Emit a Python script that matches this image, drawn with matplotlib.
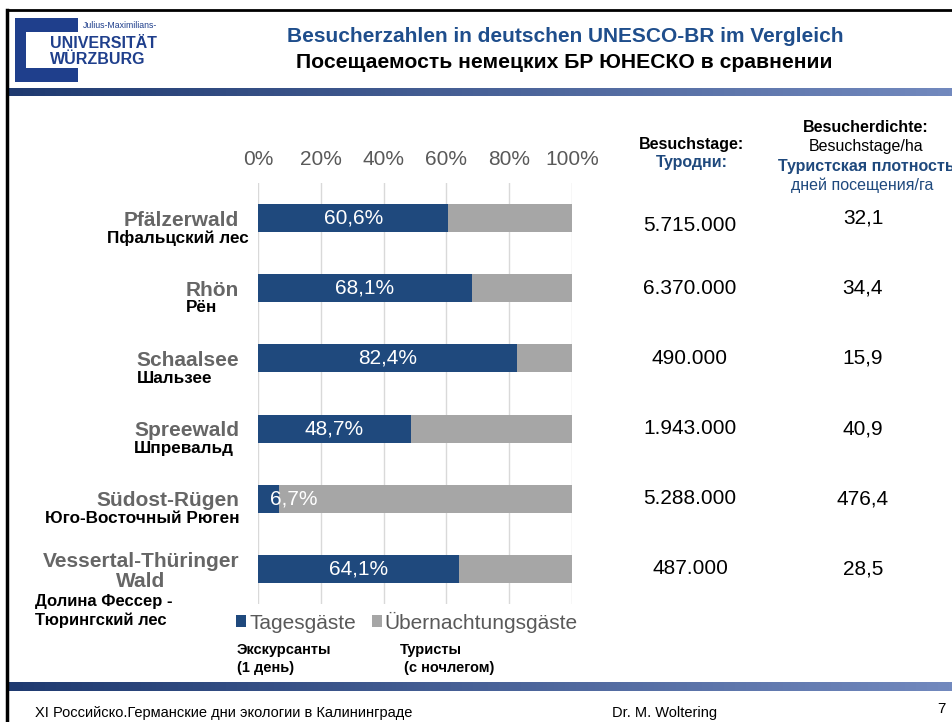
import numpy as np
import matplotlib
matplotlib.use("Agg")
import matplotlib.pyplot as plt
from matplotlib.colors import LinearSegmentedColormap
from matplotlib.patches import Rectangle
from matplotlib.lines import Line2D
from matplotlib.transforms import blended_transform_factory

plt.rcParams['font.family'] = ['Liberation Sans', 'DejaVu Sans']

# data
regionen = ["Pfälzerwald", "Rhön", "Schaalsee", "Spreewald", "Südost-Rügen",
            "Vessertal-Thüringer\nWald"]
regionen_ru = ["Пфальцский лес", "Рён", "Шальзее", "Шпревальд",
               "Юго-Восточный Рюген", "Долина Фессер -\nТюрингский лес"]
tagesgaeste = [60.6, 68.1, 82.4, 48.7, 6.7, 64.1]
uebernachtung = [100 - v for v in tagesgaeste]
besuchstage = [5715000, 6370000, 490000, 1943000, 5288000, 487000]
besucherdichte = [32.1, 34.4, 15.9, 40.9, 476.4, 28.5]

BLAU = "#1F497D"
GRAU = "#A6A6A6"
TEXTGRAU = "#595959"

W, H = 953, 722


def fx(px):
    return px / W


def fy(py):
    return 1 - py / H


fig = plt.figure(figsize=(W / 100, H / 100), dpi=100)

# Rahmen
fig.add_artist(Line2D([fx(7), 1], [fy(10), fy(10)], color="black", lw=2,
                      transform=fig.transFigure))
fig.add_artist(Line2D([fx(7), fx(7)], [fy(10), 0], color="black", lw=2.5,
                      transform=fig.transFigure))

# Logo
LOGO = "#1F3F8C"
for x0, y0, x1, y1 in [(15, 18, 78, 32), (15, 18, 26, 82), (15, 68, 78, 82)]:
    fig.add_artist(Rectangle((fx(x0), fy(y1)), fx(x1) - fx(x0), (y1 - y0) / H,
                             color=LOGO, transform=fig.transFigure, lw=0))
fig.text(fx(83), fy(25), "Julius-Maximilians-", fontsize=6.3, color=LOGO, va="center")
fig.text(fx(50), fy(43), "UNIVERSITÄT", fontsize=11.5, weight="bold", color=LOGO, va="center")
fig.text(fx(50), fy(59), "WÜRZBURG", fontsize=11.5, weight="bold", color=LOGO, va="center")

# Titel
fig.text(fx(565), fy(37), "Besucherzahlen in deutschen UNESCO-BR im Vergleich",
         ha="center", va="center", fontsize=15, weight="bold", color="#1F4E8C")
fig.text(fx(564), fy(62), "Посещаемость немецких БР ЮНЕСКО в сравнении",
         ha="center", va="center", fontsize=15.2, weight="bold", color="black")

# Farbverlauf-Balken
cmap = LinearSegmentedColormap.from_list("band", ["#1F3A70", "#7289BE"])
for top, bot in [(88, 96), (682, 691)]:
    bax = fig.add_axes([fx(8), fy(bot), 1 - fx(8), (bot - top) / H])
    bax.imshow(np.linspace(0, 1, 256)[None, :], cmap=cmap, aspect="auto")
    bax.axis("off")

# Diagramm
ax = fig.add_axes([fx(258), fy(604), fx(572) - fx(258), (604 - 183) / H])
y = np.arange(len(regionen))
b1 = ax.barh(y, tagesgaeste, height=0.4, color=BLAU, zorder=3)
b2 = ax.barh(y, uebernachtung, left=tagesgaeste, height=0.4, color=GRAU, zorder=3)
ax.set_xlim(0, 100)
ax.set_ylim(5.5, -0.5)
ax.set_xticks(range(0, 101, 20), [f"{t}%" for t in range(0, 101, 20)])
ax.xaxis.tick_top()
ax.grid(axis="x", color="#D9D9D9", lw=1, zorder=0)
for s in ax.spines.values():
    s.set_visible(False)
ax.tick_params(axis="x", length=0, pad=10, labelsize=15, labelcolor=TEXTGRAU)
ax.set_yticks(y, regionen)
ax.tick_params(axis="y", length=0, pad=13.5, labelsize=15, labelcolor="#666666")
for lab in ax.get_yticklabels():
    lab.set_fontweight("bold")
    lab.set_multialignment("center")
    lab.set_linespacing(1.05)

for i, v in enumerate(tagesgaeste):
    ax.text(max(v / 2, 11.5), i, f"{v:.1f}".replace(".", ",") + "%",
            color="white", ha="center", va="center", fontsize=15, zorder=4)

# russische Namen unter den deutschen
fig.canvas.draw()
renderer = fig.canvas.get_renderer()
trans = blended_transform_factory(fig.transFigure, ax.transData)
for i, (name, lab) in enumerate(zip(regionen_ru, ax.get_yticklabels())):
    if "\n" in name:
        ax.text(fx(35), i + 0.6, name, transform=trans, ha="left", va="center",
                fontsize=12, weight="bold", linespacing=1.25)
        continue
    t = ax.text(fx(240), i + 0.28, name, transform=trans, ha="right", va="center",
                fontsize=12.3, weight="bold")
    de_box = lab.get_window_extent(renderer)
    ru_box = t.get_window_extent(renderer)
    if ru_box.width < de_box.width:
        t.set_horizontalalignment("left")
        t.set_x(de_box.x0 / W)
    elif i == 0:
        t.set_x(fx(249))

for i, (t, d) in enumerate(zip(besuchstage, besucherdichte)):
    ax.text(fx(690), i + (0.1 if i == 0 else 0), f"{t:,}".replace(",", "."),
            transform=trans, ha="center", va="center", fontsize=15)
    ax.text(fx(863), i, f"{d:.1f}".replace(".", ","), transform=trans,
            ha="center", va="center", fontsize=15)

# Spaltenköpfe
fig.text(fx(692), fy(145), "Besuchstage:", ha="center", va="center",
         fontsize=11.5, weight="bold")
fig.text(fx(692), fy(163), "Туродни:", ha="center", va="center",
         fontsize=11.5, weight="bold", color=BLAU)
fig.text(fx(866), fy(128), "Besucherdichte:", ha="center", va="center",
         fontsize=11.5, weight="bold")
fig.text(fx(866), fy(146), "Besuchstage/ha", ha="center", va="center", fontsize=11.5)
fig.text(fx(866), fy(166), "Туристская плотность", ha="center", va="center",
         fontsize=11.5, weight="bold", color=BLAU)
fig.text(fx(862), fy(185), "дней посещения/га", ha="center", va="center",
         fontsize=11.5, color=BLAU)

# Legende
fig.legend([b1, b2], ["Tagesgäste", "Übernachtungsgäste"], loc="center left",
           bbox_to_anchor=(fx(236), fy(622)), ncol=2, frameon=False, fontsize=15,
           handlelength=0.48, handleheight=0.48, handletextpad=0.15,
           columnspacing=0.75, borderpad=0, borderaxespad=0, labelcolor=TEXTGRAU)
fig.text(fx(237), fy(650), "Экскурсанты", fontsize=10.5, weight="bold", va="center")
fig.text(fx(237), fy(668), "(1 день)", fontsize=10.5, weight="bold", va="center")
fig.text(fx(400), fy(650), "Туристы", fontsize=10.5, weight="bold", va="center")
fig.text(fx(404), fy(668), "(с ночлегом)", fontsize=10.5, weight="bold", va="center")

# Fußzeile
fig.text(fx(35), fy(713), "XI Российско.Германские дни экологии в Калининграде",
         fontsize=10.5, va="center")
fig.text(fx(612), fy(713), "Dr. M. Woltering", fontsize=10.5, va="center")
fig.text(fx(941), fy(709), "7", fontsize=11, ha="center", va="center")

fig.savefig("out.png", dpi=100)
